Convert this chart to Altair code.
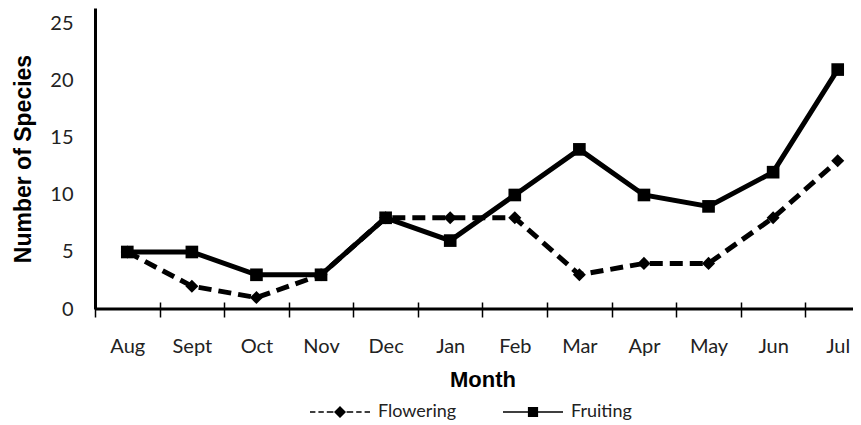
import altair as alt
import pandas as pd

months = ["Aug", "Sept", "Oct", "Nov", "Dec", "Jan", "Feb", "Mar", "Apr", "May", "Jun", "Jul"]
flowering = [5, 2, 1, 3, 8, 8, 8, 3, 4, 4, 8, 13]
fruiting = [5, 5, 3, 3, 8, 6, 10, 14, 10, 9, 12, 21]
y_ticks = [0, 5, 10, 15, 20, 25]
series = ["Flowering", "Fruiting"]

rows = []
for m, v in zip(months, flowering):
    rows.append({"Month": m, "Series": "Flowering", "Value": v})
for m, v in zip(months, fruiting):
    rows.append({"Month": m, "Series": "Fruiting", "Value": v})
df = pd.DataFrame(rows)

W, H = 758, 301
x_scale = alt.Scale(type="band", domain=months, range=[0, 775], paddingInner=0, paddingOuter=0)
y_scale = alt.Scale(domain=[0, 26.4], nice=False, zero=True)

x_axis = alt.Axis(
    title="Month", domain=False, offset=-7, tickBand="extent", tickSize=15, tickWidth=1.5,
    tickColor="black", labelAngle=0, labelFont="Lato", labelFontSize=20, labelColor="#222",
    labelPadding=19, titleFont="Liberation Sans", titleFontSize=22, titleFontWeight="bold",
    titleColor="black", titlePadding=13,
)
y_axis = alt.Axis(
    title="Number of Species", values=y_ticks, ticks=False, grid=False, domain=True,
    domainColor="black", domainWidth=3, labelFont="Lato", labelFontSize=20, labelColor="#222",
    labelPadding=22, titleFont="Liberation Sans", titleFontSize=23, titleFontWeight="bold",
    titleColor="black", titlePadding=14,
)

legend = alt.Legend(
    title=None, orient="none", direction="horizontal", legendX=215, legendY=374,
    symbolSize=3600, symbolStrokeWidth=0, symbolFillColor="black",
    symbolOpacity=1,
    labelFont="Lato", labelFontSize=18, labelColor="#222", labelOffset=8, columnPadding=46,
    padding=0,
)

base = alt.Chart(df)
X = alt.X("Month:N", scale=x_scale, axis=x_axis, sort=months)
Y = alt.Y("Value:Q", scale=y_scale, axis=y_axis)

line_flower = base.transform_filter(alt.datum.Series == "Flowering").mark_line(
    color="black", strokeWidth=5, strokeDash=[13, 7]
).encode(x=X, y=Y)

line_fruit = base.transform_filter(alt.datum.Series == "Fruiting").mark_line(
    color="black", strokeWidth=5
).encode(x=X, y=Y)

pts_flower = base.transform_filter(alt.datum.Series == "Flowering").mark_point(
    shape="diamond", filled=True, color="black", opacity=1, size=170
).encode(x=X, y=Y)

pts_fruit = base.transform_filter(alt.datum.Series == "Fruiting").mark_point(
    shape="square", filled=True, color="black", opacity=1, size=160
).encode(x=X, y=Y)


def bar(a, b, h=0.028):
    return f"M{a},{-h}H{b}V{h}H{a}Z"


flower_symbol = "".join(bar(a, b) for a, b in [(-1, -0.82), (-0.72, -0.54), (-0.44, -0.22), (0.22, 0.44), (0.54, 0.72), (0.82, 1)])
flower_symbol += "M-0.2,0L0,-0.2L0.2,0L0,0.2Z"
fruit_symbol = bar(-1, 1) + "M-0.17,-0.17H0.17V0.17H-0.17Z"
legend_paths = [flower_symbol, fruit_symbol]

legend_layer = base.transform_filter("false").mark_point(
    filled=True, color="black", opacity=1
).encode(
    x=X, y=Y,
    shape=alt.Shape("Series:N", scale=alt.Scale(domain=series, range=legend_paths), legend=legend),
)

baseline = alt.Chart(pd.DataFrame({"zero": [0]})).mark_rule(color="black", strokeWidth=3).encode(
    y=alt.Y("zero:Q", scale=y_scale)
)

chart = alt.layer(line_flower, line_fruit, pts_flower, pts_fruit, legend_layer, baseline).properties(
    width=W, height=H,
    autosize=alt.AutoSizeParams(type="none"),
    padding={"left": 87, "top": 0, "right": 0, "bottom": 114},
).configure_view(stroke=None)

chart.save("out.html", embed_options={"renderer": "svg", "actions": False})
